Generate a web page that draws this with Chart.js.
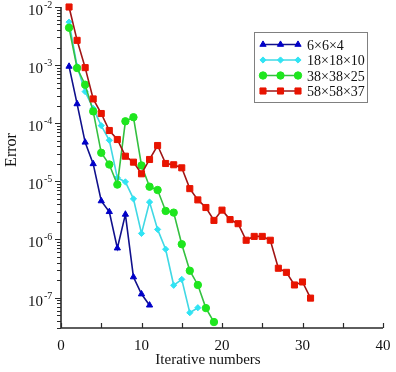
<!DOCTYPE html>
<html>
<head>
<meta charset="utf-8">
<script src="https://cdn.jsdelivr.net/npm/chart.js@4/dist/chart.umd.min.js"></script>
<style>
  html, body { margin: 0; padding: 0; background: #fff; }
  #chart { display: block; }
</style>
</head>
<body>
<canvas id="chart" width="396" height="372"></canvas>
<script>
// error per iteration, iteration numbers start at 1
const seriesNames = ['6\u00d76\u00d74', '18\u00d718\u00d710', '38\u00d738\u00d725', '58\u00d758\u00d737'];

const err6 = [9.5e-4, 2.15e-4, 4.7e-5, 2.0e-5, 4.6e-6, 3.0e-6, 7.1e-7, 2.7e-6, 2.26e-7, 1.15e-7, 7.4e-8];

const err18 = [5.5e-3, 9.5e-4, 3.5e-4, 1.8e-4, 9.1e-5, 5.1e-5, 1.15e-5, 9.8e-6, 5.0e-6, 1.27e-6,
  4.4e-6, 1.49e-6, 6.8e-7, 1.63e-7, 2.06e-7, 5.5e-8, 6.7e-8];

const err38 = [4.4e-3, 8.9e-4, 4.6e-4, 1.6e-4, 3.1e-5, 1.95e-5, 8.8e-6, 1.08e-4, 1.27e-4, 1.88e-5,
  8.1e-6, 7.1e-6, 3.1e-6, 2.9e-6, 8.3e-7, 2.9e-7, 1.65e-7, 6.6e-8, 3.8e-8];

const err58 = [1.0e-2, 2.67e-3, 9.05e-4, 2.62e-4, 1.47e-4, 7.5e-5, 5.25e-5, 2.71e-5, 2.14e-5, 1.35e-5,
  2.38e-5, 4.14e-5, 2.03e-5, 1.93e-5, 1.71e-5, 7.5e-6, 4.8e-6, 3.55e-6, 2.13e-6, 3.2e-6,
  2.2e-6, 1.87e-6, 9.7e-7, 1.13e-6, 1.13e-6, 9.7e-7, 3.2e-7, 2.72e-7, 1.65e-7, 1.86e-7, 9.8e-8];

const xTicks = [0, 10, 20, 30, 40];
const xMinorTicks = [5, 15, 25, 35];
const yExponents = [-2, -3, -4, -5, -6, -7];

const serif = '"Liberation Serif", "DejaVu Serif", serif';

const lineColors = ['#10108c', '#40d8e4', '#34c040', '#a01414'];
const markColors = ['#0000c8', '#30e4f4', '#1ee61e', '#e81400'];
const markStyles = ['triangle', 'rectRot', 'circle', 'rect'];
const markSizes = [3.6, 3.1, 3.7, 4.3];

function toPoints(arr) {
  return arr.map((v, i) => ({ x: i + 1, y: v }));
}

const allSeries = [err6, err18, err38, err58];

const datasets = allSeries.map((arr, i) => ({
  label: seriesNames[i],
  data: toPoints(arr),
  borderColor: lineColors[i],
  borderWidth: 1.6,
  pointStyle: markStyles[i],
  pointRadius: markSizes[i],
  pointBackgroundColor: markColors[i],
  pointBorderColor: markColors[i],
  pointBorderWidth: 1,
  tension: 0,
  clip: false,
  order: 4 - i
}));

const decorPlugin = {
  id: 'decor',
  afterDraw(chart) {
    const { ctx, chartArea, scales } = chart;
    const xs = scales.x, ys = scales.y;
    ctx.save();

    // axis lines
    ctx.strokeStyle = '#2a2a2a';
    ctx.lineWidth = 1.6;
    ctx.beginPath();
    ctx.moveTo(chartArea.left, chartArea.top);
    ctx.lineTo(chartArea.left, chartArea.bottom);
    ctx.lineTo(chartArea.right, chartArea.bottom);
    ctx.stroke();

    // y ticks (outside), major + minor on log scale
    ctx.lineWidth = 1.2;
    ctx.beginPath();
    for (let e = -8; e <= -2; e++) {
      for (let m = 1; m <= 9; m++) {
        const v = m * Math.pow(10, e);
        if (v < ys.min * 0.999 || v > ys.max * 1.001) continue;
        const py = Math.round(ys.getPixelForValue(v)) + 0.5;
        const len = m === 1 ? 6 : 4;
        ctx.moveTo(chartArea.left - len, py);
        ctx.lineTo(chartArea.left, py);
      }
    }
    // x ticks (inside)
    xTicks.concat(xMinorTicks).forEach(t => {
      const px = Math.round(xs.getPixelForValue(t)) + 0.5;
      ctx.moveTo(px, chartArea.bottom);
      ctx.lineTo(px, chartArea.bottom - 5);
    });
    ctx.stroke();

    // y labels 10^n
    ctx.fillStyle = '#111';
    ctx.textBaseline = 'alphabetic';
    yExponents.forEach(e => {
      const py = ys.getPixelForValue(Math.pow(10, e));
      ctx.font = '15px ' + serif;
      ctx.textAlign = 'right';
      ctx.fillText('10', 43, py + 8);
      ctx.font = '10px ' + serif;
      ctx.textAlign = 'left';
      ctx.fillText('-' + Math.abs(e), 44, py + 1);
    });

    // x labels
    ctx.font = '15px ' + serif;
    ctx.textAlign = 'center';
    xTicks.forEach(t => {
      ctx.fillText(String(t), xs.getPixelForValue(t), chartArea.bottom + 22);
    });
    ctx.fillText('Iterative numbers', 208, chartArea.bottom + 36);

    // y title
    ctx.save();
    ctx.font = '16px ' + serif;
    ctx.translate(16, 150);
    ctx.rotate(-Math.PI / 2);
    ctx.fillText('Error', 0, 0);
    ctx.restore();

    // legend
    const bx = 254, by = 32, bw = 113, bh = 70;
    ctx.strokeStyle = '#808080';
    ctx.lineWidth = 1;
    ctx.strokeRect(bx + 0.5, by + 0.5, bw, bh);
    ctx.font = '14px ' + serif;
    ctx.textAlign = 'left';
    seriesNames.forEach((name, i) => {
      const cy = by + 12.5 + i * 15.5;
      const x0 = 263, x1 = 298;
      ctx.strokeStyle = lineColors[i];
      ctx.lineWidth = 1.6;
      ctx.beginPath();
      ctx.moveTo(x0, cy);
      ctx.lineTo(x1, cy);
      ctx.stroke();
      [x0, (x0 + x1) / 2, x1].forEach(px => {
        ctx.fillStyle = markColors[i];
        ctx.strokeStyle = markColors[i];
        ctx.lineWidth = 1;
        Chart.helpers.drawPoint(ctx, { pointStyle: markStyles[i], radius: markSizes[i], borderWidth: 1, rotation: 0 }, px, cy);
      });
      ctx.fillStyle = '#111';
      ctx.fillText(name, 307, cy + 5);
    });

    ctx.restore();
  }
};

new Chart(document.getElementById('chart'), {
  type: 'line',
  data: { datasets: datasets },
  options: {
    responsive: false,
    animation: false,
    devicePixelRatio: 1,
    layout: { padding: { left: 61, right: 13, top: 7, bottom: 44 } },
    plugins: { legend: { display: false }, tooltip: { enabled: false } },
    scales: {
      x: { type: 'linear', min: 0, max: 40, display: false },
      y: { type: 'logarithmic', min: 3e-8, max: 1e-2, display: false }
    }
  },
  plugins: [decorPlugin]
});
</script>
</body>
</html>
